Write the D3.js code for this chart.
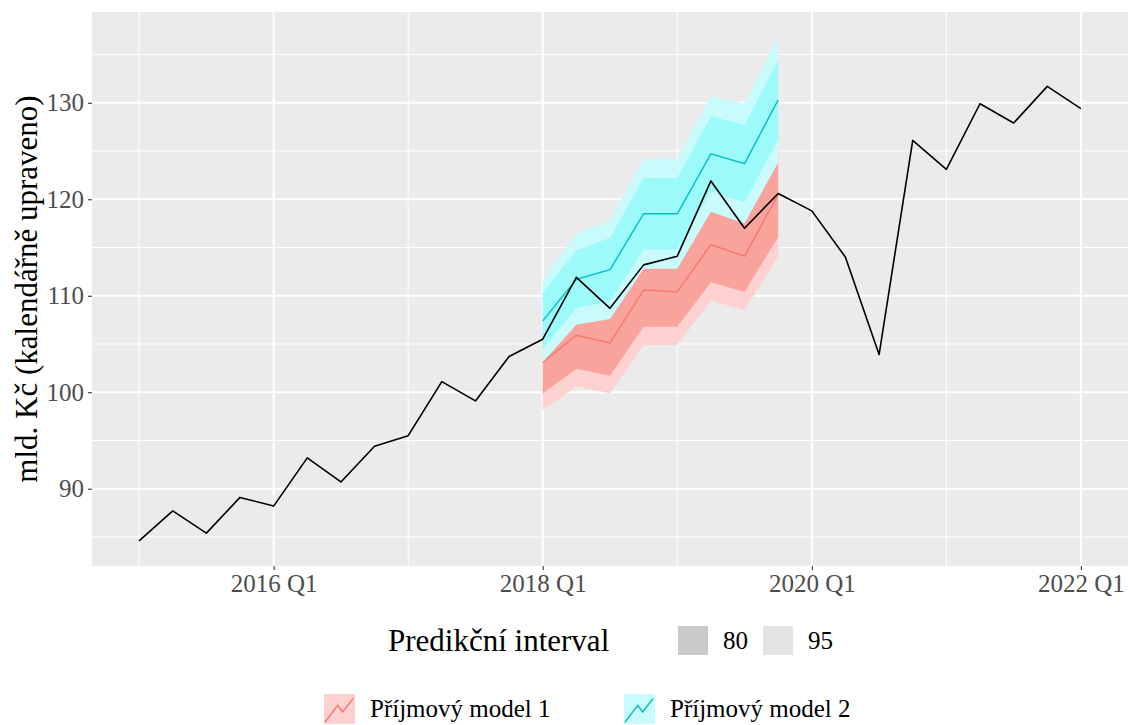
<!DOCTYPE html>
<html>
<head>
<meta charset="utf-8">
<script src="https://cdn.jsdelivr.net/npm/d3@7"></script>
<style>
  body { margin: 0; background: #fff; }
  text { font-family: "Liberation Serif", "Times New Roman", serif; }
</style>
</head>
<body>
<div id="chart"></div>
<script>
// quarterly actuals
const quarters = ["2015 Q1","2015 Q2","2015 Q3","2015 Q4","2016 Q1","2016 Q2","2016 Q3","2016 Q4",
                  "2017 Q1","2017 Q2","2017 Q3","2017 Q4","2018 Q1","2018 Q2","2018 Q3","2018 Q4",
                  "2019 Q1","2019 Q2","2019 Q3","2019 Q4","2020 Q1","2020 Q2","2020 Q3","2020 Q4",
                  "2021 Q1","2021 Q2","2021 Q3","2021 Q4","2022 Q1"];
const actual = [84.6, 87.7, 85.4, 89.1, 88.2, 93.2, 90.7, 94.4,
                95.5, 101.1, 99.1, 103.7, 105.5, 111.9, 108.7, 113.2,
                114.1, 121.9, 117.0, 120.6, 118.8, 114.0, 103.9, 126.1,
                123.1, 129.9, 127.9, 131.7, 129.4];

// forecast horizon
const fcQuarters = ["2018 Q1","2018 Q2","2018 Q3","2018 Q4","2019 Q1","2019 Q2","2019 Q3","2019 Q4"];

// Příjmový model 1
const m1Mean = [103.1, 105.9, 105.1, 110.6, 110.4, 115.3, 114.1, 120.5];
const m1Lo80 = [99.9, 102.4, 101.7, 106.8, 106.8, 111.4, 110.4, 116.1];
const m1Hi80 = [106.3, 109.4, 108.5, 114.4, 114.0, 119.2, 117.8, 124.9];
const m1Lo95 = [98.1, 100.6, 99.9, 104.9, 104.9, 109.5, 108.5, 114.1];
const m1Hi95 = [108.1, 111.2, 110.3, 116.3, 115.9, 121.1, 119.7, 126.9];

// Příjmový model 2
const m2Mean = [107.4, 111.7, 112.7, 118.5, 118.5, 124.7, 123.7, 130.3];
const m2Lo80 = [104.5, 108.7, 109.4, 114.8, 114.8, 120.8, 119.7, 126.2];
const m2Hi80 = [110.3, 114.7, 116.0, 122.2, 122.2, 128.6, 127.7, 134.4];
const m2Lo95 = [103.1, 107.0, 107.6, 112.8, 112.8, 118.7, 117.5, 123.8];
const m2Hi95 = [111.7, 116.4, 117.8, 124.2, 124.2, 130.7, 129.9, 136.8];

const xTickLabels = ["2016 Q1", "2018 Q1", "2020 Q1", "2022 Q1"];
const xMinorLabels = ["2015 Q1", "2017 Q1", "2019 Q1", "2021 Q1"];
const yTicks = [90, 100, 110, 120, 130];
const yMinor = [85, 95, 105, 115, 125, 135];

const modelNames = ["Příjmový model 1", "Příjmový model 2"];
const levelNames = ["80", "95"];

// "2018 Q3" -> 2018.5
const qTime = s => { const [y, q] = s.split(" Q"); return +y + (+q - 1) / 4; };

const W = 1128, H = 725;
const margin = { top: 12, right: 0, bottom: 159, left: 92 };
const iw = W - margin.left - margin.right;
const ih = H - margin.top - margin.bottom;

const svg = d3.select("#chart").append("svg")
    .attr("width", W).attr("height", H);

// scales with ggplot-like 5% expansion
const tExt = d3.extent(quarters, qTime);
const tPad = (tExt[1] - tExt[0]) * 0.05;
const x = d3.scaleLinear().domain([tExt[0] - tPad, tExt[1] + tPad]).range([0, iw]);

const allY = actual.concat(m1Lo95, m1Hi95, m2Lo95, m2Hi95);
const yExt = d3.extent(allY);
const yPad = (yExt[1] - yExt[0]) * 0.05;
const y = d3.scaleLinear().domain([yExt[0] - yPad, yExt[1] + yPad]).range([ih, 0]);

const g = svg.append("g").attr("transform", `translate(${margin.left},${margin.top})`);

// panel + grid
g.append("rect").attr("width", iw).attr("height", ih).attr("fill", "#EBEBEB");

g.selectAll(".ygrid-minor").data(yMinor).enter().append("line")
    .attr("x1", 0).attr("x2", iw)
    .attr("y1", d => y(d)).attr("y2", d => y(d))
    .attr("stroke", "#fff").attr("stroke-width", 1);
g.selectAll(".xgrid-minor").data(xMinorLabels).enter().append("line")
    .attr("y1", 0).attr("y2", ih)
    .attr("x1", d => x(qTime(d))).attr("x2", d => x(qTime(d)))
    .attr("stroke", "#fff").attr("stroke-width", 1);
g.selectAll(".ygrid").data(yTicks).enter().append("line")
    .attr("x1", 0).attr("x2", iw)
    .attr("y1", d => y(d)).attr("y2", d => y(d))
    .attr("stroke", "#fff").attr("stroke-width", 2);
g.selectAll(".xgrid").data(xTickLabels).enter().append("line")
    .attr("y1", 0).attr("y2", ih)
    .attr("x1", d => x(qTime(d))).attr("x2", d => x(qTime(d)))
    .attr("stroke", "#fff").attr("stroke-width", 2);

// forecast fans
const fc = fcQuarters.map(qTime);
const area = d3.area().x(d => x(d.t)).y0(d => y(d.lo)).y1(d => y(d.hi));
const line = d3.line().x(d => x(d.t)).y(d => y(d.v));

const models = [
  { mean: m1Mean, lo80: m1Lo80, hi80: m1Hi80, lo95: m1Lo95, hi95: m1Hi95,
    line: "#F8766D", f80: "#F8A39C", f95: "#FDD1CF" },
  { mean: m2Mean, lo80: m2Lo80, hi80: m2Hi80, lo95: m2Lo95, hi95: m2Hi95,
    line: "#00BFC4", f80: "#9CFAFB", f95: "#C9FBFC" }
];

models.forEach(m => {
  g.append("path")
    .attr("d", area(fc.map((t, i) => ({ t, lo: m.lo95[i], hi: m.hi95[i] }))))
    .attr("fill", m.f95);
  g.append("path")
    .attr("d", area(fc.map((t, i) => ({ t, lo: m.lo80[i], hi: m.hi80[i] }))))
    .attr("fill", m.f80);
  g.append("path")
    .attr("d", line(fc.map((t, i) => ({ t, v: m.mean[i] }))))
    .attr("fill", "none").attr("stroke", m.line).attr("stroke-width", 1.4);
});

// actual series on top
g.append("path")
    .attr("d", line(quarters.map((q, i) => ({ t: qTime(q), v: actual[i] }))))
    .attr("fill", "none").attr("stroke", "#000").attr("stroke-width", 1.6)
    .attr("stroke-linejoin", "round");

// axes
const xAxis = d3.axisBottom(x)
    .tickValues(xTickLabels.map(qTime))
    .tickFormat((d, i) => xTickLabels[i])
    .tickSize(4).tickPadding(4);
const yAxis = d3.axisLeft(y).tickValues(yTicks).tickSize(4).tickPadding(4);

const gx = g.append("g").attr("transform", `translate(0,${ih})`).call(xAxis);
const gy = g.append("g").call(yAxis);
[gx, gy].forEach(a => {
  a.select(".domain").remove();
  a.selectAll(".tick line").attr("stroke", "#333").attr("stroke-width", 1.1);
  a.selectAll(".tick text").attr("fill", "#4D4D4D")
    .style("font-size", "25px").style("font-family", "Liberation Serif");
});

// y title
svg.append("text")
    .attr("transform", `translate(37,${margin.top + ih / 2}) rotate(-90)`)
    .attr("text-anchor", "middle")
    .style("font-size", "31px")
    .text("mld. Kč (kalendářně upraveno)");

// legend: prediction interval
const lg1 = svg.append("g");
lg1.append("text").attr("x", 388).attr("y", 651)
    .style("font-size", "31px").text("Predikční interval");
const greyKeys = ["#CACACA", "#E4E4E4"];
levelNames.forEach((lv, i) => {
  const kx = 678 + i * 85;
  lg1.append("rect").attr("x", kx).attr("y", 626).attr("width", 30).attr("height", 29)
    .attr("fill", greyKeys[i]);
  lg1.append("text").attr("x", kx + 45).attr("y", 649)
    .style("font-size", "25px").text(lv);
});

// legend: models
const lg2 = svg.append("g");
const keyPts = [[0.03, 0.94], [0.46, 0.38], [0.62, 0.6], [0.97, 0.15]];
modelNames.forEach((name, i) => {
  const kx = 324 + i * 300, ky = 694, ks = 30;
  const m = models[i];
  lg2.append("rect").attr("x", kx).attr("y", ky).attr("width", ks + 1).attr("height", ks)
    .attr("fill", m.f95);
  lg2.append("path")
    .attr("d", d3.line()(keyPts.map(p => [kx + p[0] * ks, ky + p[1] * ks])))
    .attr("fill", "none").attr("stroke", m.line).attr("stroke-width", 1.4);
  lg2.append("text").attr("x", kx + 46).attr("y", 717)
    .style("font-size", "25px").text(name);
});
</script>
</body>
</html>
